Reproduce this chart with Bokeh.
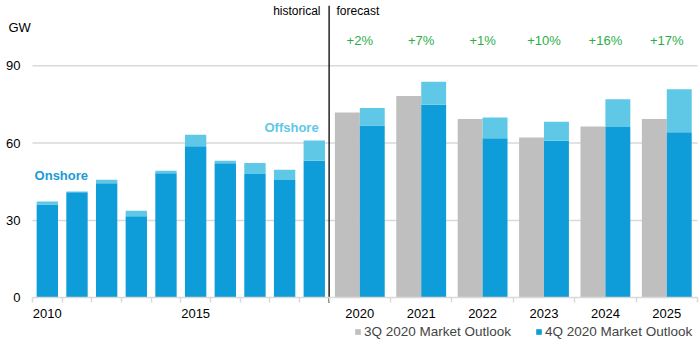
from bokeh.plotting import figure
from bokeh.models import (ColumnDataSource, FixedTicker, Label, Legend,
                          LegendItem, Range1d)
from bokeh.core.properties import value
from bokeh.embed import file_html
from bokeh.resources import INLINE

# ---------------- data ----------------
hist_years = ["2010", "2011", "2012", "2013", "2014", "2015", "2016", "2017", "2018", "2019"]
hist_onshore = [36.2, 40.9, 44.4, 31.6, 48.3, 58.8, 52.2, 48.0, 45.7, 53.2]
hist_offshore = [1.2, 0.3, 1.4, 2.2, 1.0, 4.4, 1.0, 4.3, 4.0, 7.8]

fc_years = ["2020", "2021", "2022", "2023", "2024", "2025"]
fc_3q_total = [71.9, 78.3, 69.4, 62.2, 66.4, 69.4]
fc_4q_onshore = [66.8, 74.9, 61.9, 60.9, 66.3, 64.2]
fc_4q_offshore = [6.8, 8.9, 8.0, 7.4, 10.7, 16.7]
fc_change = ["+2%", "+7%", "+1%", "+10%", "+16%", "+17%"]

y_ticks = [0, 30, 60, 90]
hist_labelled = ["2010", "2015"]

# ---------------- style ----------------
FONT = "Liberation Sans"
C_ON = "#0f9dd9"
C_OFF = "#5fc8e6"
C_GRAY = "#bfbfbf"
C_GREEN = "#2bae4a"
C_GRID = "#d9d9d9"

HW = 1.0      # width of a historical slot
FW = 2.07     # width of a forecast slot
n_h = len(hist_years)
split = n_h * HW

hist_x = [HW * (i + 0.5) for i in range(n_h)]
fc_x = [round(split + FW * (i + 0.5), 4) for i in range(len(fc_years))]
fc_x_3q = [x - 0.42 for x in fc_x]
fc_x_4q = [x + 0.42 for x in fc_x]

hist_total = [a + b for a, b in zip(hist_onshore, hist_offshore)]
fc_4q_total = [a + b for a, b in zip(fc_4q_onshore, fc_4q_offshore)]

hs = ColumnDataSource(dict(x=hist_x, on=hist_onshore, tot=hist_total))
fs = ColumnDataSource(dict(x=fc_x, x3=fc_x_3q, x4=fc_x_4q, g=fc_3q_total,
                           on=fc_4q_onshore, tot=fc_4q_total, chg=fc_change))

x_end = split + FW * len(fc_years)
# canvas mapping: plot area from px 32 to 697 horizontally, value 0 at px 297
px_x = 665.0 / x_end
px_y = 2.578
x_view = Range1d(-32.0 / px_x, 668.0 / px_x)
y_view = Range1d(-(350 - 297.3) / px_y, 297.3 / px_y)

p = figure(width=700, height=350, output_backend="svg", toolbar_location=None,
           x_range=x_view, y_range=y_view,
           min_border_left=0, min_border_right=0, min_border_top=0,
           min_border_bottom=0)
p.outline_line_color = None
p.background_fill_color = "white"
p.xgrid.visible = False
p.ygrid.visible = False

# grid lines (over the plot area only)
grid_y = y_ticks[1:]
p.segment(x0=[0] * len(grid_y), x1=[x_end] * len(grid_y), y0=grid_y, y1=grid_y,
          line_color=C_GRID, line_width=1.5)

# bars
p.vbar(x="x", width=0.72, bottom=0, top="on", source=hs, fill_color=C_ON, line_color=None)
p.vbar(x="x", width=0.72, bottom="on", top="tot", source=hs, fill_color=C_OFF, line_color=None)
r_g = p.vbar(x="x3", width=0.84, bottom=0, top="g", source=fs, fill_color=C_GRAY, line_color=None)
r_on = p.vbar(x="x4", width=0.84, bottom=0, top="on", source=fs, fill_color=C_ON, line_color=None)
p.vbar(x="x4", width=0.84, bottom="on", top="tot", source=fs, fill_color=C_OFF, line_color=None)

# percentages
p.text(x="x", y=99.8, text="chg", source=fs, text_align="center", text_baseline="middle",
       text_color=C_GREEN, text_font=value(FONT), text_font_size="13px")

# divider between historical and forecast
p.segment(x0=[split], x1=[split], y0=[-1.9], y1=[113.3], line_color="black", line_width=1.3)

# annotations
def lab(x, y, t, align="left", color="black", size="12px", style="normal"):
    p.add_layout(Label(x=x, y=y, text=t, text_align=align, text_baseline="middle",
                       text_color=color, text_font=FONT, text_font_size=size,
                       text_font_style=style))

lab(9.71, 111.4, "historical", align="right")
lab(10.25, 111.4, "forecast")
lab(-24.0 / px_x, 104.8, "GW", size="13px")
lab(0.07, 47.4, "Onshore", color="#1a9ad7", size="13px", style="bold")
lab(7.82, 65.9, "Offshore", color=C_OFF, size="13px", style="bold")

# axes (drawn at fixed data locations inside the canvas)
xt = [hist_x[hist_years.index(y)] for y in hist_labelled] + fc_x
xl = hist_labelled + fc_years
bounds = [HW * i for i in range(n_h + 1)] + [round(split + FW * (i + 1), 4) for i in range(len(fc_years))]
xa = p.xaxis[0]
xa.fixed_location = 0
xa.bounds = (0, x_end)
xa.ticker = FixedTicker(ticks=xt, minor_ticks=bounds)
xa.major_label_overrides = {t: l for t, l in zip(xt, xl)}
xa.major_tick_line_color = None
xa.major_tick_out = 0
xa.major_tick_in = 0
xa.minor_tick_line_color = C_GRID
xa.minor_tick_line_width = 1.5
xa.minor_tick_out = 5
xa.minor_tick_in = 0
xa.axis_line_color = C_GRID
xa.axis_line_width = 1.5
xa.major_label_standoff = 6
xa.major_label_text_font = FONT
xa.major_label_text_font_size = "13px"
xa.major_label_text_color = "black"

ya = p.yaxis[0]
ya.fixed_location = 0
ya.ticker = FixedTicker(ticks=y_ticks)
ya.axis_line_color = None
ya.major_tick_line_color = None
ya.minor_tick_line_color = None
ya.major_tick_out = 0
ya.major_tick_in = 0
ya.major_label_standoff = 12
ya.major_label_text_font = FONT
ya.major_label_text_font_size = "13px"
ya.major_label_text_color = "black"

legend = Legend(items=[LegendItem(label="3Q 2020 Market Outlook", renderers=[r_g]),
                       LegendItem(label="4Q 2020 Market Outlook", renderers=[r_on])],
                orientation="horizontal", location=(354, 11),
                border_line_color=None, background_fill_alpha=0,
                glyph_width=7, glyph_height=7, label_standoff=3, spacing=24,
                padding=0, margin=0, label_height=13,
                label_text_font=FONT, label_text_font_size="13.5px")
p.add_layout(legend, "center")

open("out.html", "w").write(file_html(p, INLINE))
